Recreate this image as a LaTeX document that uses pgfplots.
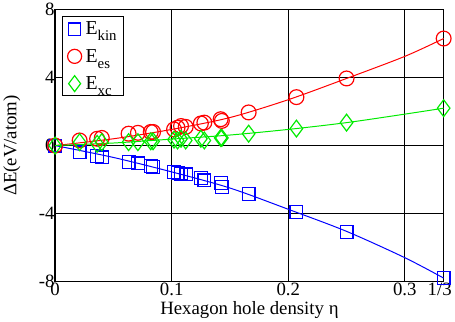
\documentclass[border=0pt]{standalone}
\usepackage{pgfplots}
\pgfplotsset{compat=1.18}
\usepackage{fontspec}
\setmainfont{Liberation Serif}

% hole densities and energy components (eV/atom)
\pgfplotstableread{
x      kin    es     xc
0      0      0      0
0.021 -0.40   0.30   0.20
0.036 -0.60   0.40   0.10
0.040 -0.70   0.45   0.20
0.063 -0.95   0.70   0.20
0.071 -1.05   0.75   0.20
0.082 -1.20   0.80   0.25
0.084 -1.25   0.80   0.25
0.102 -1.55   0.95   0.35
0.105 -1.60   1.05   0.30
0.108 -1.65   1.15   0.40
0.112 -1.70   1.10   0.30
0.125 -1.90   1.30   0.40
0.128 -2.05   1.35   0.30
0.142 -2.20   1.55   0.45
0.143 -2.45   1.45   0.45
0.166 -2.85   1.95   0.70
0.207 -3.90   2.85   1.00
0.250 -5.10   3.95   1.35
0.3333 -7.80  6.30   2.20
}\datatable

% fitted curves
\pgfplotstableread{
x      kin    es     xc
0      0      0      0
0.05  -0.70   0.40   0.15
0.10  -1.55   0.95   0.38
0.15  -2.50   1.65   0.62
0.20  -3.75   2.70   0.95
0.25  -5.05   3.95   1.35
0.30  -6.60   5.25   1.85
0.3333 -7.80  6.30   2.20
}\fittable

\definecolor{cblue}{RGB}{0,0,255}
\definecolor{cred}{RGB}{255,0,0}
\definecolor{cgreen}{RGB}{0,235,0}

\newcommand{\lsub}[1]{\raisebox{-6pt}{\fontsize{15}{15}\selectfont #1}}

\begin{document}
\begin{tikzpicture}
\begin{axis}[
  scale only axis,
  width=393pt, height=275pt,
  xmin=0, xmax=0.3333, ymin=-8, ymax=8,
  xtick={0,0.1,0.2,0.3},
  xticklabels={0,0.1,0.2,0.3},
  extra x ticks={0.3333},
  extra x tick labels={1/3},
  extra x tick style={xticklabel style={xshift=-4pt}},
  ytick={-8,-4,0,4,8},
  yticklabels={-8,-4,0,4,8},
  grid=major,
  grid style={black, line width=1pt},
  axis line style={line width=1.6pt},
  tick style={draw=none},
  ticklabel style={font=\fontsize{19}{19}\selectfont},
  xticklabel style={yshift=2pt},
  yticklabel style={xshift=3pt},
  label style={font=\fontsize{19}{19}\selectfont},
  xlabel={Hexagon hole density η},
  ylabel={ΔE(eV/atom)},
  xlabel style={yshift=1pt},
  ylabel style={yshift=12pt},
  legend style={at={(0.018,0.975)}, anchor=north west, draw=black, line width=1pt,
    font=\fontsize{20}{20}\selectfont, inner xsep=5pt, inner ysep=3pt,
    row sep=9pt, column sep=2pt, cells={anchor=west}},
  legend image post style={mark options={scale=0.95, line width=1.2pt}},
  clip=false,
]
\addplot[cblue, line width=1pt, smooth, forget plot] table[x=x, y=kin] {\fittable};
\addplot[cred, line width=1pt, smooth, forget plot] table[x=x, y=es] {\fittable};
\addplot[cgreen, line width=1pt, smooth, forget plot] table[x=x, y=xc] {\fittable};

\addplot[only marks, mark=square, mark size=6.5pt, cblue, mark options={line width=1.2pt}]
  table[x=x, y=kin] {\datatable};
\addplot[only marks, mark=o, mark size=7.5pt, cred, mark options={line width=1.2pt}]
  table[x=x, y=es] {\datatable};
\addplot[only marks, mark=diamond, mark size=8.5pt, cgreen, mark options={line width=1.2pt}]
  table[x=x, y=xc] {\datatable};
\legend{E\lsub{kin}, E\lsub{es}, E\lsub{xc}}
\end{axis}
\end{tikzpicture}
\end{document}
